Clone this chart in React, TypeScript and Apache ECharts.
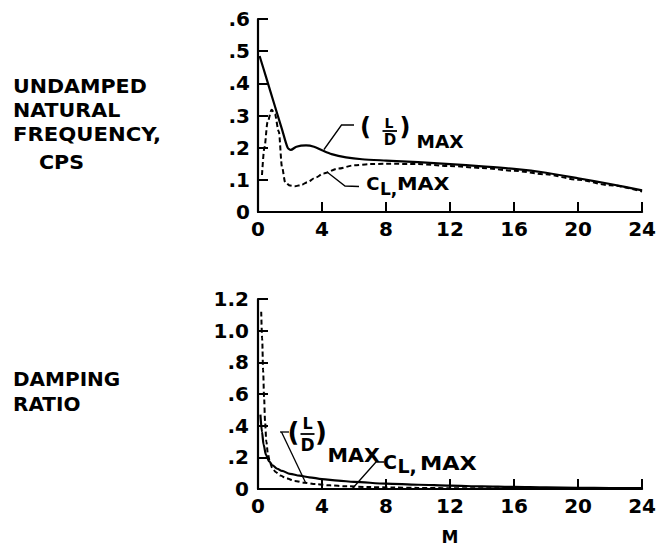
import React, { useEffect, useRef } from "react";
import * as echarts from "echarts";

const FONT = "DejaVu Sans";

// Top chart: undamped natural frequency, cps vs M
const M_FREQ_LD = [0.1, 0.5, 1.0, 1.5, 1.85, 2.05, 2.4, 3.0, 3.5, 4.0, 4.6, 5.5, 6.5, 8, 10, 12, 14, 16, 18, 20, 22, 24];
const FREQ_LD = [0.485, 0.42, 0.338, 0.257, 0.2, 0.193, 0.203, 0.207, 0.203, 0.192, 0.18, 0.17, 0.164, 0.16, 0.155, 0.149, 0.142, 0.134, 0.122, 0.105, 0.087, 0.067];
const M_FREQ_CL = [0.25, 0.4, 0.6, 0.85, 1.05, 1.3, 1.5, 1.7, 2.0, 2.3, 2.7, 3.1, 3.6, 4.1, 5, 6, 7, 8, 10, 12, 14, 16, 18, 20, 22, 24];
const FREQ_CL = [0.115, 0.2, 0.28, 0.318, 0.305, 0.25, 0.14, 0.092, 0.082, 0.08, 0.084, 0.093, 0.107, 0.12, 0.135, 0.145, 0.149, 0.15, 0.149, 0.143, 0.137, 0.128, 0.117, 0.1, 0.083, 0.064];

// Bottom chart: damping ratio vs M
const M_DAMP_LD = [0.15, 0.25, 0.35, 0.5, 0.7, 0.9, 1.2, 1.5, 2, 2.6, 3.2, 4, 5, 6, 8, 10, 12, 14, 16, 18, 20, 22, 24];
const DAMP_LD = [0.47, 0.36, 0.28, 0.215, 0.175, 0.15, 0.128, 0.114, 0.096, 0.084, 0.074, 0.063, 0.053, 0.045, 0.034, 0.027, 0.021, 0.017, 0.013, 0.01, 0.008, 0.006, 0.005];
const M_DAMP_CL = [0.2, 0.26, 0.32, 0.38, 0.44, 0.52, 0.62, 0.75, 0.9, 1.1, 1.4, 1.8, 2.3, 2.9, 3.6, 4.5, 5.5, 7, 8.5, 10, 12, 16, 20, 24];
const DAMP_CL = [1.12, 0.95, 0.75, 0.58, 0.43, 0.3, 0.22, 0.165, 0.132, 0.107, 0.085, 0.066, 0.051, 0.04, 0.031, 0.023, 0.017, 0.012, 0.009, 0.007, 0.005, 0.004, 0.003, 0.002];

const X_TICKS_MAX = 24;
const X_INTERVAL = 4;
const FREQ_MAX = 0.6;
const FREQ_INTERVAL = 0.1;
const DAMP_MAX = 1.2;
const DAMP_INTERVAL = 0.2;

const zip = (xs: number[], ys: number[]) => xs.map((x, i) => [x, ys[i]]);

function txt(x: number, y: number, text: string, size: number, align: string = "left", scaleX = 1) {
  return {
    type: "text",
    x,
    y,
    scaleX,
    z: 100,
    style: {
      text,
      fontSize: size,
      fontFamily: FONT,
      fontWeight: "bold",
      fill: "#000",
      align,
      verticalAlign: "middle",
      textAlign: align,
      textVerticalAlign: "middle",
    },
  };
}

function poly(points: number[][], w = 1.3) {
  return {
    type: "polyline",
    z: 100,
    shape: { points },
    style: { stroke: "#000", lineWidth: w, fill: null },
  };
}

function fracLine(x1: number, x2: number, y: number) {
  return {
    type: "line",
    z: 100,
    shape: { x1, y1: y, x2, y2: y },
    style: { stroke: "#000", lineWidth: 1.8 },
  };
}

const axisCommon = {
  axisLine: { show: true, onZero: false, lineStyle: { color: "#000", width: 2.2 } },
  axisTick: { show: true, inside: true, length: 10, lineStyle: { color: "#000", width: 2 } },
  splitLine: { show: false },
};

const labelStyle = { color: "#000", fontSize: 20, fontFamily: FONT, fontWeight: "bold" };

export default function App() {
  const ref = useRef<HTMLDivElement>(null);
  useEffect(() => {
    if (!ref.current) return;
    const chart = echarts.init(ref.current, null, { renderer: "svg" });
    const freqFmt = (v: number) => (Math.abs(v) < 1e-9 ? "0" : "." + Math.round(v * 10));
    const dampFmt = (v: number) => {
      if (Math.abs(v) < 1e-9) return "0";
      if (v >= 0.99) return v.toFixed(1);
      return "." + Math.round(v * 10);
    };
    const lineSolid = { color: "#000", width: 2.2, type: "solid" };
    const lineDash = { color: "#000", width: 2, type: [5, 3] };
    chart.setOption({
      animation: false,
      backgroundColor: "#fff",
      grid: [
        { left: 258, top: 19, width: 385, height: 193 },
        { left: 258, top: 299, width: 385, height: 195 },
      ],
      xAxis: [
        {
          type: "value", gridIndex: 0, min: 0, max: X_TICKS_MAX, interval: X_INTERVAL,
          ...axisCommon,
          axisLabel: { ...labelStyle, margin: 7 },
        },
        {
          type: "value", gridIndex: 1, min: 0, max: X_TICKS_MAX, interval: X_INTERVAL,
          ...axisCommon,
          axisLabel: { ...labelStyle, margin: 7 },
          name: "M", nameLocation: "middle", nameGap: 39,
          nameTextStyle: { color: "#000", fontSize: 17, fontWeight: "bold", fontFamily: FONT },
        },
      ],
      yAxis: [
        {
          type: "value", gridIndex: 0, min: 0, max: FREQ_MAX, interval: FREQ_INTERVAL,
          ...axisCommon,
          axisLabel: { ...labelStyle, margin: 8, formatter: freqFmt },
        },
        {
          type: "value", gridIndex: 1, min: 0, max: DAMP_MAX, interval: DAMP_INTERVAL,
          ...axisCommon,
          axisLabel: { ...labelStyle, margin: 9, formatter: dampFmt },
        },
      ],
      series: [
        { type: "line", xAxisIndex: 0, yAxisIndex: 0, data: zip(M_FREQ_LD, FREQ_LD), showSymbol: false, smooth: 0.25, lineStyle: lineSolid },
        { type: "line", xAxisIndex: 0, yAxisIndex: 0, data: zip(M_FREQ_CL, FREQ_CL), showSymbol: false, smooth: 0.3, smoothMonotone: "x", lineStyle: lineDash },
        { type: "line", xAxisIndex: 1, yAxisIndex: 1, data: zip(M_DAMP_LD, DAMP_LD), showSymbol: false, smooth: 0.3, smoothMonotone: "x", lineStyle: lineSolid },
        { type: "line", xAxisIndex: 1, yAxisIndex: 1, data: zip(M_DAMP_CL, DAMP_CL), showSymbol: false, smooth: 0.3, smoothMonotone: "x", lineStyle: lineDash },
      ],
      graphic: [
        // left titles
        txt(13, 86, "UNDAMPED", 20, "left", 1.03),
        txt(13, 110, "NATURAL", 20, "left", 1.03),
        txt(13, 134, "FREQUENCY,", 20, "left", 1.06),
        txt(39, 162, "CPS", 20, "left", 1.03),
        txt(13, 379, "DAMPING", 20, "left", 1.0),
        txt(13, 404, "RATIO", 20, "left", 1.0),
        // top (L/D)MAX
        poly([[324, 149.5], [341.5, 125], [354, 125]]),
        txt(365.5, 127, "(", 24, "center"),
        txt(389, 122.5, "L", 14, "center"),
        fracLine(382.5, 397, 131),
        txt(390, 139.5, "D", 15, "center"),
        txt(405, 127, ")", 24, "center"),
        txt(416.5, 142, "MAX", 18, "left", 1.03),
        // top C_L,MAX
        poly([[327, 172], [345, 186], [359, 186.5]]),
        txt(379.5, 183, "C", 18, "right"),
        txt(380, 188.5, "L,", 17, "left"),
        txt(397, 183.5, "MAX", 18, "left", 1.15),
        // bottom (L/D)MAX
        poly([[280, 432], [289, 432]]),
        poly([[281.5, 432], [305.5, 482.5]]),
        txt(293.5, 432, "(", 26, "center"),
        txt(307.5, 423.5, "L", 16, "center"),
        fracLine(300.5, 314.5, 434),
        txt(307.5, 444.5, "D", 17, "center"),
        txt(321, 432, ")", 26, "center"),
        txt(327.5, 455, "MAX", 20, "left", 1.03),
        // bottom C_L,MAX
        poly([[352, 489], [376, 462], [384, 462]]),
        txt(397, 461.7, "C", 19, "right"),
        txt(397.5, 466, "L,", 19, "left"),
        txt(420, 462.5, "MAX", 20, "left", 1.12),
      ],
    });
    return () => chart.dispose();
  }, []);
  return (
    <div
      ref={ref}
      style={{ position: "fixed", left: 0, top: 0, width: 659, height: 546, background: "#fff" }}
    />
  );
}
